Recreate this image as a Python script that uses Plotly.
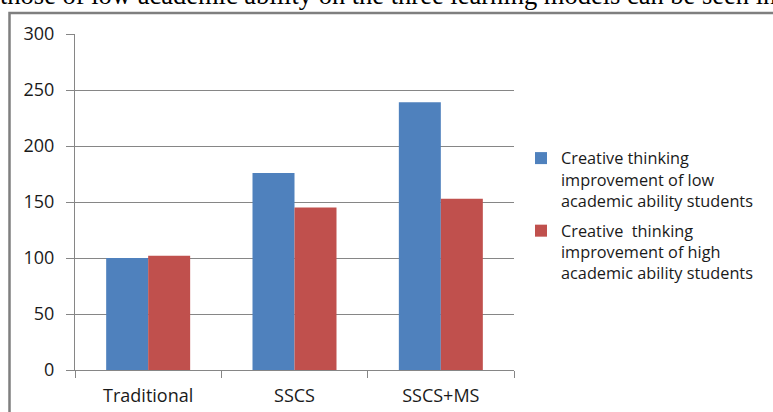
import plotly.graph_objects as go

categories = ["Traditional", "SSCS", "SSCS+MS"]
low_ability = [100, 176, 239]
high_ability = [102, 145, 153]
series_names = [
    "Creative thinking<br>improvement of low<br>academic ability students",
    "Creative  thinking<br>improvement of high<br>academic ability students",
]
y_ticks = [0, 50, 100, 150, 200, 250, 300]
caption = "those of low academic ability on the three learning models can be seen in"

W, H = 773, 412
L, R, T, B = 75, 514, 34, 370
pw, ph = R - L, B - T

def px(x):
    return (x - L) / pw

def py(y):
    return 1 - (y - T) / ph

fig = go.Figure()
fig.add_trace(go.Bar(x=categories, y=low_ability, name=series_names[0],
                     marker=dict(color="#4F81BD", line=dict(width=0)), legendgroup="a"))
fig.add_trace(go.Bar(x=categories, y=high_ability, name=series_names[1],
                     marker=dict(color="#C0504D", line=dict(width=0)), legendgroup="b"))

grey = "#868686"
fig.update_layout(
    width=W, height=H,
    margin=dict(l=L, r=W - R, t=T, b=H - B, pad=0, autoexpand=False),
    paper_bgcolor="white", plot_bgcolor="white",
    barmode="group", bargap=0.426, bargroupgap=0,
    font=dict(family="Open Sans", color="#1a1a1a"),
    showlegend=True,
    legend=dict(x=px(521), y=py(141), xanchor="left", yanchor="top",
                font=dict(size=16.3, family="Open Sans", color="#1a1a1a"),
                valign="top", traceorder="grouped", tracegroupgap=6,
                bgcolor="rgba(0,0,0,0)"),
    xaxis=dict(showline=True, linecolor=grey, linewidth=1,
               ticks="outside", tickson="boundaries", ticklen=7, tickcolor=grey,
               tickfont=dict(size=18, family="Open Sans", color="#1a1a1a"),
               ticklabelstandoff=9, automargin=False,
               showgrid=False, fixedrange=True),
    yaxis=dict(range=[0, 300], tickvals=y_ticks, showline=True, linecolor=grey, linewidth=1,
               ticks="outside", ticklen=8, tickcolor=grey,
               tickfont=dict(size=18, family="Open Sans", color="#1a1a1a"),
               ticklabelstandoff=8, automargin=False,
               showgrid=True, gridcolor=grey, gridwidth=1, zeroline=False, fixedrange=True),
)

# outer chart border (only top and left visible in the crop)
fig.add_shape(type="rect", xref="paper", yref="paper",
              x0=px(9.5), x1=px(900), y0=py(13), y1=py(600),
              line=dict(color="#7f7f7f", width=2.5), layer="above")

fig.add_annotation(text=caption, xref="paper", yref="paper",
                   x=px(-2), y=py(-5), xanchor="left", yanchor="middle",
                   showarrow=False,
                   font=dict(family="Liberation Serif", size=26.5, color="black"))

fig.write_html("out.html", config={"displayModeBar": False},
               post_script="document.body.style.margin='0';document.body.style.padding='0';")
